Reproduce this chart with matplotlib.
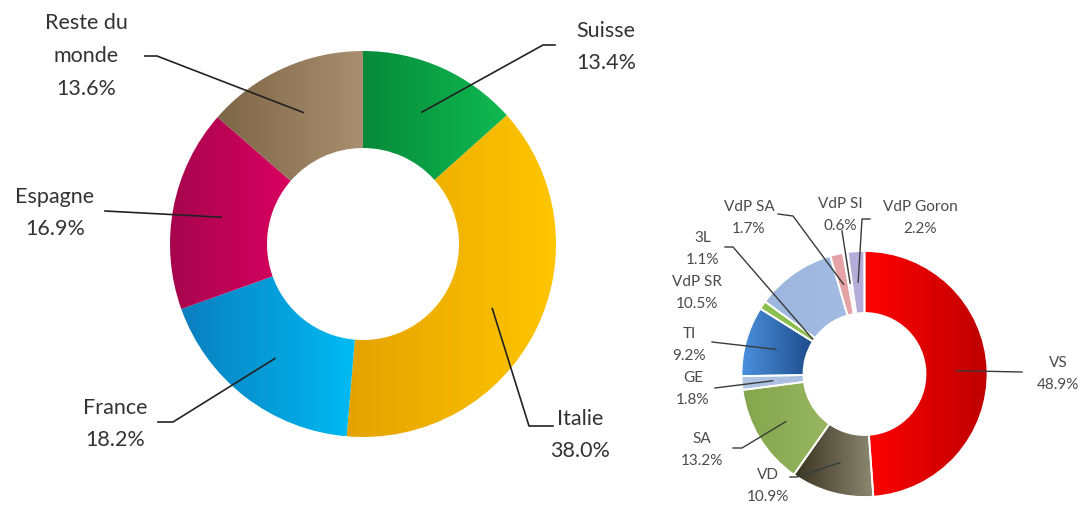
import numpy as np
import matplotlib
matplotlib.use("Agg")
import matplotlib.pyplot as plt
from matplotlib.colors import LinearSegmentedColormap

# donnees
pays = ["Suisse", "Italie", "France", "Espagne", "Reste du\nmonde"]
pays_pct = [13.4, 38.0, 18.2, 16.9, 13.6]

cantons = ["VS", "VD", "SA", "GE", "TI", "3L", "VdP SR", "VdP SA", "VdP SI", "VdP Goron"]
cantons_pct = [48.9, 10.9, 13.2, 1.8, 9.2, 1.1, 10.5, 1.7, 0.6, 2.2]

W, H = 1081, 506

plt.rcParams['font.family'] = ['Lato', 'DejaVu Sans']

# gradient colours (left -> right)
pays_cols = [("#078a3a", "#10ba52"), ("#e4a200", "#ffc600"), ("#0a7ebf", "#00bbf3"),
             ("#a6064e", "#d9005f"), ("#7d6646", "#a98f6f")]
cantons_cols = [("#ff0202", "#bf0000"), ("#383320", "#8e8972"), ("#84a64c", "#97b660"),
                ("#b2c6e6", "#a9bee0"), ("#4b91de", "#1d4b8a"), ("#8cbf50", "#8cbf50"),
                ("#9cb6de", "#a3bbe2"), ("#e6a3a6", "#e6a3a6"), ("#efe9ef", "#efe9ef"),
                ("#b5add9", "#b5add9")]


def fill_gradient(ax, w, c1, c2):
    bb = w.get_path().get_extents()
    cmap = LinearSegmentedColormap.from_list("g", [c1, c2])
    grad = np.linspace(0, 1, 256).reshape(1, -1)
    im = ax.imshow(grad, cmap=cmap, extent=(bb.x0, bb.x1, bb.y0, bb.y1),
                   aspect='auto', interpolation='bilinear', zorder=2)
    im.set_clip_path(w)


def anchor(w, frac=0.5):
    t = np.deg2rad((w.theta1 + w.theta2) / 2)
    r = w.r - w.width * frac
    return w.center[0] + r * np.cos(t), w.center[1] + r * np.sin(t)


def p(x, y):
    return x, H - y


fig = plt.figure(figsize=(W / 100, H / 100), dpi=100)
ax = fig.add_axes([0, 0, 1, 1])

# left donut
w1, _ = ax.pie(pays_pct, center=p(363, 245), radius=193, startangle=90,
               counterclock=False, wedgeprops=dict(width=97, linewidth=0))
for w, (c1, c2) in zip(w1, pays_cols):
    w.set_facecolor('none')
    w.set_zorder(3)
    fill_gradient(ax, w, c1, c2)

# right donut
w2, _ = ax.pie(cantons_pct, center=p(864.5, 375), radius=123, startangle=90,
               counterclock=False,
               wedgeprops=dict(width=62, linewidth=1.3, edgecolor='white'))
for w, (c1, c2) in zip(w2, cantons_cols):
    w.set_facecolor('none')
    w.set_zorder(3)
    fill_gradient(ax, w, c1, c2)

# label text position, leader points (pixel coords), anchor depth
left_layout = [
    ((606, 47), [(555, 46), (543, 46)], 0.5),
    ((580, 435), [(553, 427), (529, 427)], 0.5),
    ((115, 424), [(158, 423), (173, 423)], 0.5),
    ((55, 213), [(105, 212)], 0.5),
    ((86, 56), [(145, 57), (157, 57)], 0.5),
]
right_layout = [
    ((1058, 374), [(1022, 373)], 0.5),
    ((768, 486), [(790, 478), (797, 478)], 0.5),
    ((702, 450), [(733, 449), (742, 449)], 0.5),
    ((693, 389), [(715, 389)], 0.5),
    ((689, 345), [(712, 343)], 0.5),
    ((703, 249), [(725, 248), (733, 248)], 0.97),
    ((697, 293), None, 0.5),
    ((749, 218), [(778, 215), (793, 217)], 0.5),
    ((840, 215), [(842, 232)], 0.5),
    ((920, 218), [(870, 220), (862, 220)], 0.5),
]

for name, v, w, (tpos, pts, frac) in zip(pays, pays_pct, w1, left_layout):
    ax.text(*p(*tpos), f"{name}\n{v:.1f}%", ha='center', va='center',
            fontsize=15.5, color='#333333', linespacing=1.8, zorder=5)
    xs = [p(*q)[0] for q in pts] + [anchor(w, frac)[0]]
    ys = [p(*q)[1] for q in pts] + [anchor(w, frac)[1]]
    ax.plot(xs, ys, color='#222222', lw=1.2, zorder=4)

for name, v, w, (tpos, pts, frac) in zip(cantons, cantons_pct, w2, right_layout):
    ax.text(*p(*tpos), f"{name}\n{v:.1f}%", ha='center', va='center',
            fontsize=11, color='#4a4a4a', linespacing=1.65, zorder=5)
    if pts is None:
        continue
    xs = [p(*q)[0] for q in pts] + [anchor(w, frac)[0]]
    ys = [p(*q)[1] for q in pts] + [anchor(w, frac)[1]]
    ax.plot(xs, ys, color='#3a3a3a', lw=1.0, zorder=4)

ax.set_xlim(0, W)
ax.set_ylim(0, H)
ax.set_aspect('auto')
ax.axis('off')

fig.savefig('out.png', dpi=100)
